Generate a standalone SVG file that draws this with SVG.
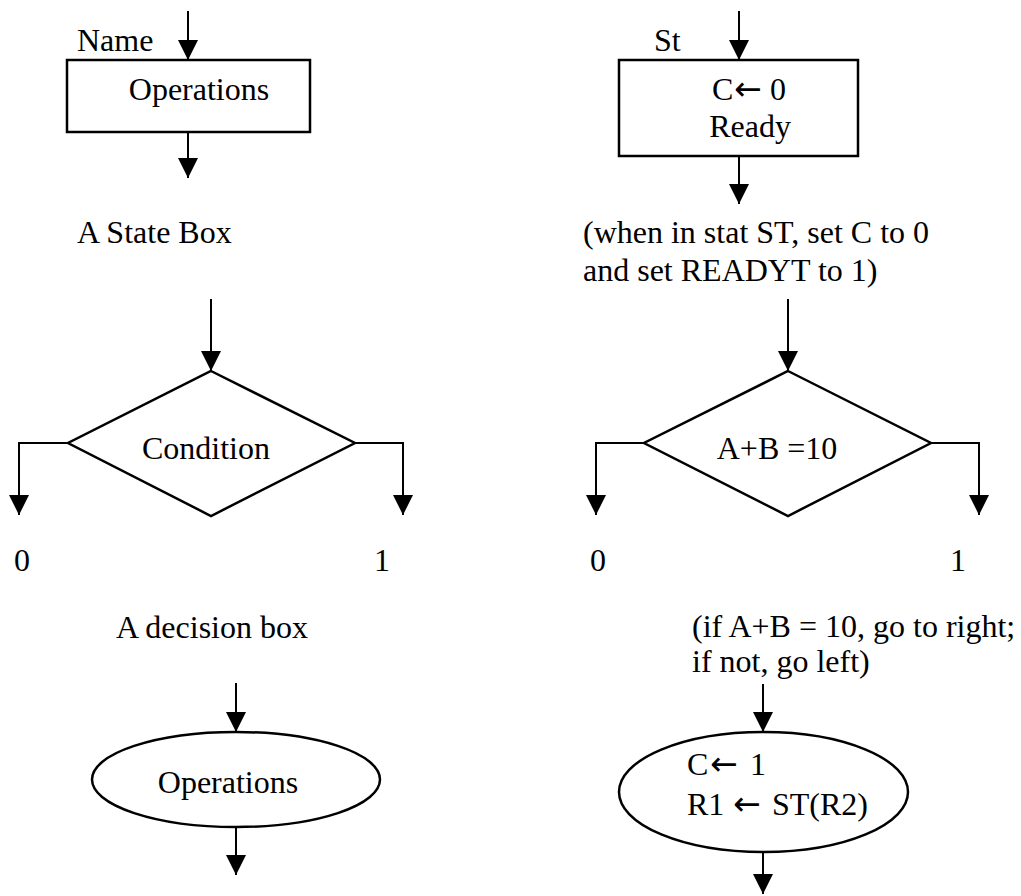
<svg xmlns="http://www.w3.org/2000/svg" width="1021" height="896" viewBox="0 0 1021 896">
<style>
.t{font-family:"Liberation Serif","Times New Roman",serif;font-size:32px;fill:#000}
.m{text-anchor:middle}
.ar{font-family:"DejaVu Sans",sans-serif;font-size:33px}
.s{fill:#fff;stroke:#000;stroke-width:2.5}
.c{fill:none;stroke:#000;stroke-width:2;marker-end:url(#ah)}
</style>
<defs>
<marker id="ah" markerUnits="userSpaceOnUse" markerWidth="20" markerHeight="20" refX="20" refY="10" orient="auto">
<path d="M0,0 L20,10 L0,20 z" fill="#000"/>
</marker>
</defs>
<rect width="1021" height="896" fill="#fff"/>
<g id="connectors">
<line class="c" x1="188" y1="11" x2="188" y2="60"/>
<line class="c" x1="188" y1="132" x2="188" y2="178"/>
<line class="c" x1="739" y1="11" x2="739" y2="60"/>
<line class="c" x1="739" y1="156" x2="739" y2="204"/>
<line class="c" x1="211" y1="299" x2="211" y2="371"/>
<polyline class="c" points="68,443 19,443 19,515"/>
<polyline class="c" points="355,443 403,443 403,515"/>
<line class="c" x1="788" y1="299" x2="788" y2="371"/>
<polyline class="c" points="644,443 596,443 596,515"/>
<polyline class="c" points="931,443 979,443 979,515"/>
<line class="c" x1="236" y1="683" x2="236" y2="732"/>
<line class="c" x1="236" y1="827" x2="236" y2="875"/>
<line class="c" x1="763" y1="684" x2="763" y2="732"/>
<line class="c" x1="763" y1="852" x2="763" y2="894"/>
</g>
<g id="state-box">
<rect class="s" x="67" y="60" width="243" height="72"/>
<text class="t m" x="199" y="100">Operations</text>
<text class="t" x="77" y="51">Name</text>
<text class="t" x="77" y="243">A State Box</text>
</g>
<g id="state-box-example">
<rect class="s" x="619" y="60" width="239" height="96"/>
<text class="t" x="654" y="51">St</text>
<text class="t" x="712" y="100">C<tspan class="ar" x="734">←</tspan><tspan x="770">0</tspan></text>
<text class="t m" x="750" y="137">Ready</text>
<text class="t" x="583" y="243">(when in stat ST, set C to 0</text>
<text class="t" x="583" y="281">and set READYT to 1)</text>
</g>
<g id="decision-box">
<polygon class="s" stroke-width="2" points="211,371 355,443 211,516 68,443"/>
<text class="t m" x="206" y="459">Condition</text>
<text class="t" x="14" y="571">0</text>
<text class="t" x="374" y="571">1</text>
<text class="t" x="116" y="638">A decision box</text>
</g>
<g id="decision-box-example">
<polygon class="s" stroke-width="2" points="788,371 931,443 788,516 644,443"/>
<text class="t m" x="777" y="459">A+B =10</text>
<text class="t" x="590" y="571">0</text>
<text class="t" x="950" y="571">1</text>
<text class="t" x="692" y="637">(if A+B = 10, go to right;</text>
<text class="t" x="692" y="672"> if not, go left)</text>
</g>
<g id="conditional-box">
<ellipse class="s" stroke-width="2" cx="236" cy="779.5" rx="144" ry="47.5"/>
<text class="t m" x="228" y="793">Operations</text>
</g>
<g id="conditional-box-example">
<ellipse class="s" stroke-width="2" cx="763.5" cy="792" rx="144.5" ry="60"/>
<text class="t" x="687" y="775">C<tspan class="ar" x="710">←</tspan><tspan x="750">1</tspan></text>
<text class="t" x="687" y="815">R1<tspan class="ar" x="733">←</tspan><tspan x="772">ST(R2)</tspan></text>
</g>
</svg>
